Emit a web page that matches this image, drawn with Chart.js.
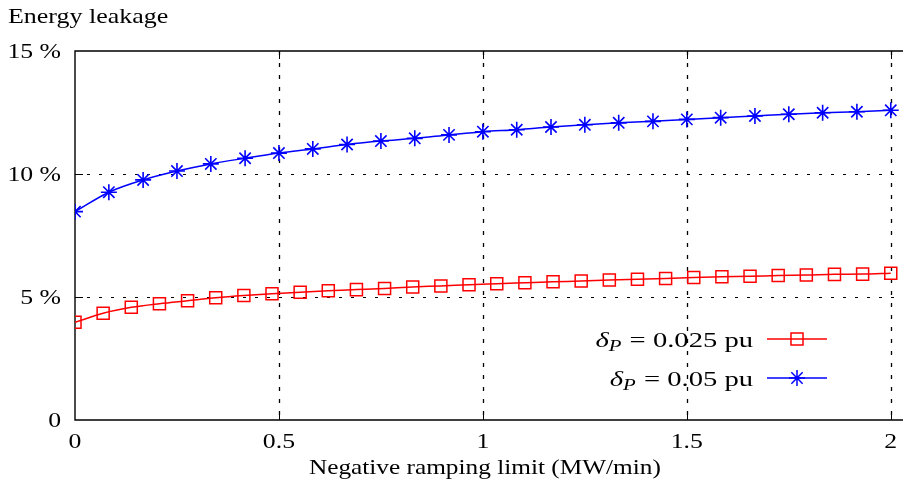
<!DOCTYPE html>
<html lang="en">
<head>
  <meta charset="UTF-8">
  <title>Energy leakage vs negative ramping limit</title>
  <script src="https://cdn.jsdelivr.net/npm/chart.js"></script>
  <style>
    html, body {
      margin: 0;
      padding: 0;
      background: #fff;
    }
    .chart-box {
      width: 903px;
      height: 489px;
      position: relative;
    }
  </style>
</head>
<body>
  <div class="chart-box">
    <canvas id="leakChart"></canvas>
  </div>

  <script>
    // x positions of the markers (MW/min)
    const xSmall = [0, 0.069, 0.138, 0.207, 0.276, 0.345, 0.414, 0.483, 0.552, 0.621,
      0.690, 0.759, 0.828, 0.897, 0.966, 1.034, 1.103, 1.172, 1.241, 1.310,
      1.379, 1.448, 1.517, 1.586, 1.655, 1.724, 1.793, 1.862, 1.931, 2.0];
    const xLarge = [0, 0.083, 0.167, 0.25, 0.333, 0.417, 0.5, 0.583, 0.667, 0.75,
      0.833, 0.917, 1, 1.083, 1.167, 1.25, 1.333, 1.417, 1.5, 1.583,
      1.667, 1.75, 1.833, 1.917, 2];

    // energy leakage in %
    const leakSmall = [3.97, 4.34, 4.58, 4.73, 4.85, 4.97, 5.06, 5.13, 5.19, 5.25,
      5.30, 5.35, 5.41, 5.45, 5.50, 5.54, 5.58, 5.62, 5.65, 5.69,
      5.72, 5.75, 5.79, 5.82, 5.84, 5.87, 5.89, 5.92, 5.93, 5.97];
    const leakLarge = [8.47, 9.26, 9.76, 10.12, 10.41, 10.64, 10.85, 11.02, 11.20, 11.34,
      11.45, 11.59, 11.72, 11.80, 11.91, 12.00, 12.08, 12.14, 12.22, 12.29,
      12.36, 12.43, 12.49, 12.53, 12.59];

    const xTicks = [0, 0.5, 1, 1.5, 2];
    const xTickLabels = ['0', '0.5', '1', '1.5', '2'];
    const yTicks = [0, 5, 10, 15];
    const yTickLabels = ['0', '5 %', '10 %', '15 %'];

    const seriesNames = ['0.025 pu', '0.05 pu'];
    const serif = '"Liberation Serif", "Times New Roman", serif';

    function toPoints(xs, ys) {
      return xs.map((x, i) => ({ x: x, y: ys[i] }));
    }

    // the source text is a little wider than plain Times, so stretch it
    function wideText(ctx, text, x, y, align, stretch) {
      const w = ctx.measureText(text).width * stretch;
      let left = x;
      if (align === 'center') left = x - w / 2;
      if (align === 'right') left = x - w;
      ctx.save();
      ctx.textAlign = 'left';
      ctx.translate(left, y);
      ctx.scale(stretch, 1);
      ctx.fillText(text, 0, 0);
      ctx.restore();
      return w;
    }

    // grid, frame, inward ticks, labels, legend
    const framePlugin = {
      id: 'frame',
      beforeDatasetsDraw(chart) {
        const ctx = chart.ctx;
        const area = chart.chartArea;
        const xs = chart.scales.x;
        const ys = chart.scales.y;
        ctx.save();
        ctx.strokeStyle = '#000';
        ctx.lineWidth = 1;

        // dotted grid
        ctx.setLineDash([3, 9]);
        [5, 10].forEach(v => {
          const py = Math.round(ys.getPixelForValue(v)) + 0.5;
          ctx.beginPath();
          ctx.moveTo(area.left, py);
          ctx.lineTo(chart.width, py);
          ctx.stroke();
        });
        ctx.setLineDash([4, 8]);
        ctx.lineWidth = 1.3;
        [0.5, 1, 1.5, 2].forEach(v => {
          const px = Math.round(xs.getPixelForValue(v)) + 0.5;
          ctx.beginPath();
          ctx.moveTo(px, area.top);
          ctx.lineTo(px, area.bottom);
          ctx.stroke();
        });

        // inward tick marks
        ctx.setLineDash([]);
        ctx.lineWidth = 1;
        [0.5, 1, 1.5, 2].forEach(v => {
          const px = Math.round(xs.getPixelForValue(v)) + 0.5;
          ctx.beginPath();
          ctx.moveTo(px, area.bottom);
          ctx.lineTo(px, area.bottom - 8);
          ctx.moveTo(px, area.top);
          ctx.lineTo(px, area.top + 8);
          ctx.stroke();
        });
        [5, 10].forEach(v => {
          const py = Math.round(ys.getPixelForValue(v)) + 0.5;
          ctx.beginPath();
          ctx.moveTo(area.left, py);
          ctx.lineTo(area.left + 8, py);
          ctx.stroke();
        });

        // frame (open on the right)
        ctx.lineWidth = 1.4;
        ctx.beginPath();
        ctx.moveTo(chart.width, area.top);
        ctx.lineTo(area.left, area.top);
        ctx.lineTo(area.left, area.bottom);
        ctx.lineTo(chart.width, area.bottom);
        ctx.stroke();
        ctx.restore();
      },
      afterDraw(chart) {
        const ctx = chart.ctx;
        const xs = chart.scales.x;
        const ys = chart.scales.y;
        ctx.save();
        ctx.fillStyle = '#000';
        ctx.font = '22px ' + serif;
        ctx.textBaseline = 'alphabetic';

        // tick labels
        yTicks.forEach((v, i) => {
          wideText(ctx, yTickLabels[i], 61, ys.getPixelForValue(v) + 7, 'right', 1.17);
        });
        xTicks.forEach((v, i) => {
          wideText(ctx, xTickLabels[i], xs.getPixelForValue(v), 448, 'center', 1.17);
        });

        // axis captions
        wideText(ctx, 'Energy leakage', 8, 23, 'left', 1.18);
        wideText(ctx, 'Negative ramping limit (MW/min)', xs.getPixelForValue(1) + 2, 474, 'center', 1.15);

        // legend
        const rows = [
          { name: seriesNames[0], color: '#ff0000', style: 'rect', radius: 8.5, y: 339 },
          { name: seriesNames[1], color: '#0000ff', style: 'star', radius: 8, y: 378 }
        ];
        const textRight = 753;
        const st = 1.3;
        rows.forEach(r => {
          const rest = ' = ' + r.name;
          ctx.font = 'italic 22px ' + serif;
          const wDelta = ctx.measureText('\u03b4').width * st;
          ctx.font = 'italic 16px ' + serif;
          const wP = ctx.measureText('P').width * st;
          ctx.font = '22px ' + serif;
          const wRest = ctx.measureText(rest).width * st;
          let x = textRight - (wDelta + wP + 1 + wRest);
          const base = r.y + 8;
          ctx.font = 'italic 22px ' + serif;
          x += wideText(ctx, '\u03b4', x, base, 'left', st);
          ctx.font = 'italic 16px ' + serif;
          x += wideText(ctx, 'P', x, base + 4, 'left', st) + 1;
          ctx.font = '22px ' + serif;
          wideText(ctx, rest, x, base, 'left', st);

          ctx.strokeStyle = r.color;
          ctx.fillStyle = 'rgba(0,0,0,0)';
          ctx.lineWidth = 1.5;
          ctx.beginPath();
          ctx.moveTo(767, r.y);
          ctx.lineTo(827, r.y);
          ctx.stroke();
          Chart.helpers.drawPoint(ctx, { pointStyle: r.style, radius: r.radius, rotation: 0, borderWidth: 1.5 }, 797, r.y);
          ctx.fillStyle = '#000';
        });
        ctx.restore();
      }
    };

    const ctx = document.getElementById('leakChart').getContext('2d');
    new Chart(ctx, {
      type: 'line',
      data: {
        datasets: [
          {
            label: seriesNames[0],
            data: toPoints(xSmall, leakSmall),
            borderColor: '#ff0000',
            backgroundColor: 'rgba(0,0,0,0)',
            borderWidth: 1.5,
            pointStyle: 'rect',
            pointRadius: 8.5,
            pointBorderWidth: 1.5,
            pointBorderColor: '#ff0000',
            pointBackgroundColor: 'rgba(0,0,0,0)',
            cubicInterpolationMode: 'monotone'
          },
          {
            label: seriesNames[1],
            data: toPoints(xLarge, leakLarge),
            borderColor: '#0000ff',
            backgroundColor: 'rgba(0,0,0,0)',
            borderWidth: 1.5,
            pointStyle: 'star',
            pointRadius: 8,
            pointBorderWidth: 1.6,
            pointBorderColor: '#0000ff',
            pointBackgroundColor: 'rgba(0,0,0,0)',
            cubicInterpolationMode: 'monotone'
          }
        ]
      },
      options: {
        responsive: true,
        maintainAspectRatio: false,
        animation: false,
        events: [],
        layout: {
          autoPadding: false,
          padding: { left: 0, right: 0, top: 51, bottom: 0 }
        },
        plugins: {
          legend: { display: false },
          tooltip: { enabled: false },
          title: { display: false }
        },
        scales: {
          x: {
            type: 'linear',
            min: 0,
            max: 2.03,
            grid: { display: false, drawTicks: false },
            border: { display: false },
            ticks: { display: false },
            afterBuildTicks: scale => {
              scale.ticks = xTicks.map(v => ({ value: v }));
            },
            afterFit: scale => {
              scale.height = 69;
            }
          },
          y: {
            type: 'linear',
            min: 0,
            max: 15,
            grid: { display: false, drawTicks: false },
            border: { display: false },
            ticks: { display: false },
            afterBuildTicks: scale => {
              scale.ticks = yTicks.map(v => ({ value: v }));
            },
            afterFit: scale => {
              scale.width = 75;
            }
          }
        }
      },
      plugins: [framePlugin]
    });
  </script>
</body>
</html>
